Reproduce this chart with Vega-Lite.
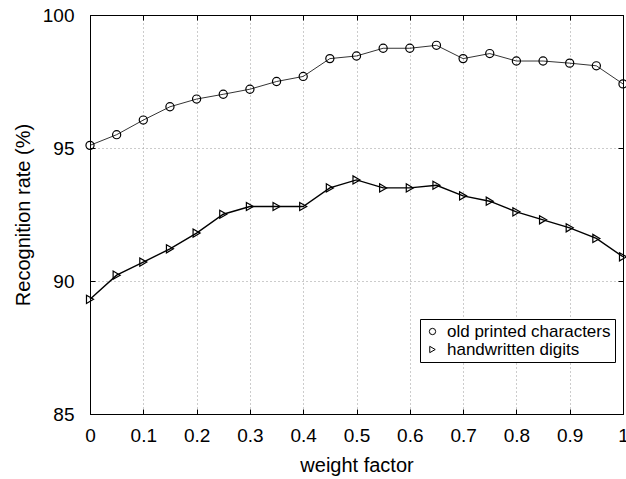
{
  "$schema": "https://vega.github.io/schema/vega-lite/v6.json",
  "autosize": "none",
  "width": 533,
  "height": 399,
  "padding": {"left": 90, "top": 15, "right": 3, "bottom": 65},
  "background": "white",
  "config": {
    "font": "Liberation Sans",
    "view": {"stroke": "black", "strokeWidth": 1},
    "axis": {
      "labelFont": "Liberation Sans",
      "titleFont": "Liberation Sans",
      "labelFontSize": 19,
      "titleFontSize": 20,
      "titleFontWeight": "normal",
      "labelColor": "black",
      "titleColor": "black",
      "domainColor": "black",
      "tickColor": "black",
      "tickSize": -5,
      "gridColor": "#999999",
      "gridDash": [1, 3],
      "gridWidth": 1
    },
    "legend": {
      "labelFont": "Liberation Sans",
      "labelFontSize": 17,
      "labelColor": "black",
      "labelLimit": 400
    }
  },
  "data": {
    "values": [
      {"w": 0.00, "rate": 95.10, "series": "old printed characters"},
      {"w": 0.05, "rate": 95.50, "series": "old printed characters"},
      {"w": 0.10, "rate": 96.05, "series": "old printed characters"},
      {"w": 0.15, "rate": 96.55, "series": "old printed characters"},
      {"w": 0.20, "rate": 96.84, "series": "old printed characters"},
      {"w": 0.25, "rate": 97.02, "series": "old printed characters"},
      {"w": 0.30, "rate": 97.21, "series": "old printed characters"},
      {"w": 0.35, "rate": 97.50, "series": "old printed characters"},
      {"w": 0.40, "rate": 97.69, "series": "old printed characters"},
      {"w": 0.45, "rate": 98.36, "series": "old printed characters"},
      {"w": 0.50, "rate": 98.46, "series": "old printed characters"},
      {"w": 0.55, "rate": 98.75, "series": "old printed characters"},
      {"w": 0.60, "rate": 98.75, "series": "old printed characters"},
      {"w": 0.65, "rate": 98.86, "series": "old printed characters"},
      {"w": 0.70, "rate": 98.36, "series": "old printed characters"},
      {"w": 0.75, "rate": 98.55, "series": "old printed characters"},
      {"w": 0.80, "rate": 98.27, "series": "old printed characters"},
      {"w": 0.85, "rate": 98.27, "series": "old printed characters"},
      {"w": 0.90, "rate": 98.19, "series": "old printed characters"},
      {"w": 0.95, "rate": 98.09, "series": "old printed characters"},
      {"w": 1.00, "rate": 97.41, "series": "old printed characters"},
      {"w": 0.00, "rate": 89.31, "series": "handwritten digits"},
      {"w": 0.05, "rate": 90.22, "series": "handwritten digits"},
      {"w": 0.10, "rate": 90.71, "series": "handwritten digits"},
      {"w": 0.15, "rate": 91.21, "series": "handwritten digits"},
      {"w": 0.20, "rate": 91.80, "series": "handwritten digits"},
      {"w": 0.25, "rate": 92.51, "series": "handwritten digits"},
      {"w": 0.30, "rate": 92.80, "series": "handwritten digits"},
      {"w": 0.35, "rate": 92.80, "series": "handwritten digits"},
      {"w": 0.40, "rate": 92.80, "series": "handwritten digits"},
      {"w": 0.45, "rate": 93.50, "series": "handwritten digits"},
      {"w": 0.50, "rate": 93.80, "series": "handwritten digits"},
      {"w": 0.55, "rate": 93.50, "series": "handwritten digits"},
      {"w": 0.60, "rate": 93.50, "series": "handwritten digits"},
      {"w": 0.65, "rate": 93.60, "series": "handwritten digits"},
      {"w": 0.70, "rate": 93.20, "series": "handwritten digits"},
      {"w": 0.75, "rate": 93.00, "series": "handwritten digits"},
      {"w": 0.80, "rate": 92.60, "series": "handwritten digits"},
      {"w": 0.85, "rate": 92.30, "series": "handwritten digits"},
      {"w": 0.90, "rate": 92.00, "series": "handwritten digits"},
      {"w": 0.95, "rate": 91.60, "series": "handwritten digits"},
      {"w": 1.00, "rate": 90.91, "series": "handwritten digits"}
    ]
  },
  "layer": [
    {
      "transform": [{"filter": "datum.series === 'old printed characters'"}],
      "mark": {"type": "line", "color": "black", "clip": false, "strokeWidth": 0.8},
      "encoding": {
        "x": {
          "field": "w", "type": "quantitative",
          "scale": {"domain": [0, 1], "nice": false, "zero": false},
          "axis": {
            "orient": "bottom",
            "title": "weight factor",
            "values": [0, 0.1, 0.2, 0.3, 0.4, 0.5, 0.6, 0.7, 0.8, 0.9, 1],
            "format": "~g",
            "labelPadding": 17,
            "titlePadding": 10,
            "labelFlush": false,
            "grid": true
          }
        },
        "y": {
          "field": "rate", "type": "quantitative",
          "scale": {"domain": [85, 100], "nice": false, "zero": false},
          "axis": {
            "orient": "left",
            "title": "Recognition rate (%)",
            "values": [85, 90, 95, 100],
            "labelPadding": 21,
            "titlePadding": 9,
            "labelFlush": false,
            "grid": true
          }
        }
      }
    },
    {
      "transform": [{"filter": "datum.series === 'handwritten digits'"}],
      "mark": {"type": "line", "color": "black", "clip": false, "strokeWidth": 1.4},
      "encoding": {
        "x": {"field": "w", "type": "quantitative", "axis": null},
        "y": {"field": "rate", "type": "quantitative", "axis": null}
      }
    },
    {
      "mark": {"type": "point", "filled": false, "color": "black", "opacity": 1, "clip": false, "size": 66, "strokeWidth": 1.2},
      "encoding": {
        "x": {
          "field": "w", "type": "quantitative",
          "axis": {
            "orient": "top",
            "title": null,
            "labels": false,
            "values": [0, 0.1, 0.2, 0.3, 0.4, 0.5, 0.6, 0.7, 0.8, 0.9, 1],
            "grid": false
          }
        },
        "y": {
          "field": "rate", "type": "quantitative",
          "axis": {
            "orient": "right",
            "title": null,
            "labels": false,
            "values": [85, 90, 95, 100],
            "grid": false
          }
        },
        "shape": {
          "field": "series", "type": "nominal",
          "scale": {"domain": ["old printed characters", "handwritten digits"], "range": ["circle", "triangle-right"]},
          "legend": {
            "title": null,
            "orient": "none",
            "legendX": 330,
            "legendY": 304,
            "strokeColor": "black",
            "fillColor": "white",
            "padding": 4,
            "symbolSize": 40,
            "symbolStrokeColor": "black",
            "symbolStrokeWidth": 1,
            "labelOffset": 6,
            "rowPadding": 0,
            "labelLimit": 400,
            "cornerRadius": 0
          }
        }
      }
    }
  ],
  "resolve": {"axis": {"x": "independent", "y": "independent"}}
}
